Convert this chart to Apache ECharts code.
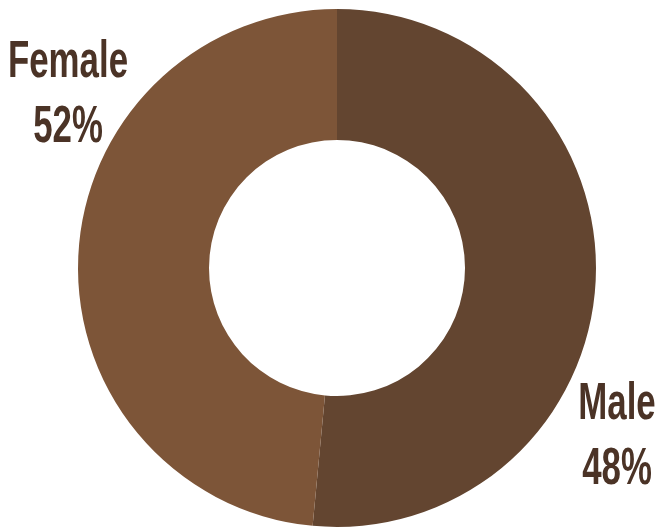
<!DOCTYPE html>
<html>
<head>
<meta charset="utf-8">
<script src="https://cdn.jsdelivr.net/npm/echarts@6/dist/echarts.min.js"></script>
<style>
  html, body { margin: 0; padding: 0; background: #fff; }
  #container { width: 661px; height: 529px; }
</style>
</head>
<body>
<div id="container"></div>
<script>
// slice sizes as drawn in the picture, label text as printed
var categories = ['Male', 'Female'];
var sliceValues = [51.5, 48.5];
var labelPercents = ['48%', '52%'];
var sliceColors = ['#634530', '#7d5538'];

var dom = document.getElementById("container");
var myChart = echarts.init(dom);

var pieData = categories.map(function (name, i) {
    return { name: name, value: sliceValues[i], itemStyle: { color: sliceColors[i] } };
});

// where each label sits (Male bottom right, Female top left)
var labelSpots = [
    { x: 617, y: 437 },
    { x: 68, y: 95 }
];

// condensed look: squeeze a normal sans horizontally
var labelTexts = categories.map(function (name, i) {
    return {
        type: 'text',
        x: labelSpots[i].x,
        y: labelSpots[i].y,
        scaleX: 0.67,
        style: {
            text: name + '\n' + labelPercents[i],
            fontFamily: 'Liberation Sans',
            fontWeight: 'bold',
            fontSize: 52,
            lineHeight: 65,
            fill: '#4b3326',
            align: 'center',
            verticalAlign: 'middle'
        }
    };
});

var option = {
    animation: false,
    graphic: labelTexts,
    series: [
        {
            type: 'pie',
            center: [337, 268],
            radius: [128, 259],
            startAngle: 90,
            clockwise: true,
            silent: true,
            data: pieData,
            label: { show: false },
            labelLine: { show: false }
        }
    ]
};
myChart.setOption(option, true);
</script>
</body>
</html>
